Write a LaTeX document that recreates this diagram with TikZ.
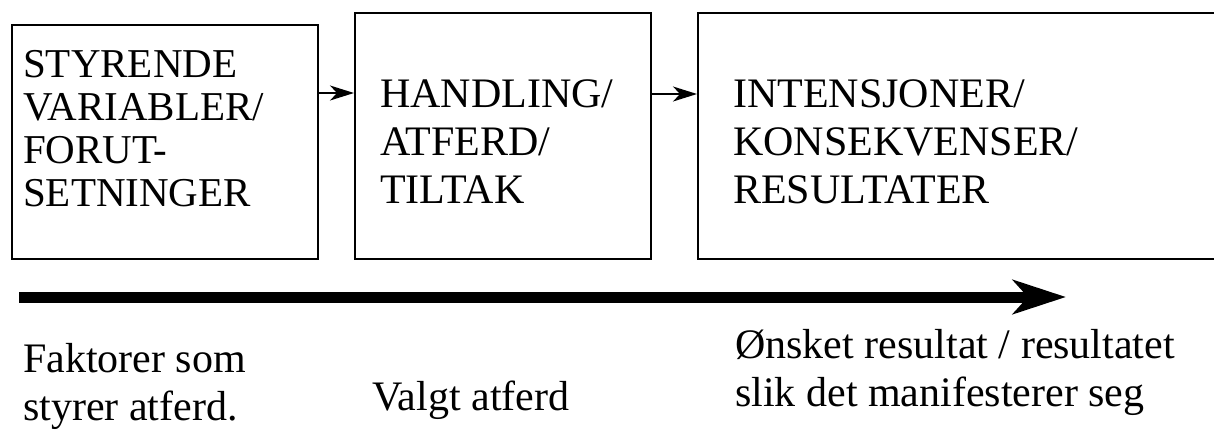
\documentclass[tikz,border=0pt]{standalone}
\usepackage{fontspec}
\setmainfont{Liberation Serif}
\usetikzlibrary{arrows.meta, positioning}
\tikzset{>=Stealth}

\begin{document}
\begin{tikzpicture}[x=1pt, y=-1pt,
        boks/.style={draw, line width=1.8pt, anchor=north west, inner sep=0pt},
        tekst/.style={anchor=base west, align=left, inner sep=0pt, font=\fontsize{42}{48}\selectfont},
        pil/.style={->, line width=1.5pt, >={Stealth[length=24pt, width=15pt, inset=7pt]}},
        tidspil/.style={->, line width=11pt, >={Stealth[length=53pt, width=34pt, inset=15pt]}}]
        \useasboundingbox (0,0) rectangle (1214,432);
        % boksene
        \node[boks, minimum width=306pt, minimum height=234pt] (styr) at (11,24) {};
        \node[boks, minimum width=296pt, minimum height=246pt] (hand) at (354,12) {};
        \node[boks, minimum width=530pt, minimum height=246pt] (res) at (697,12) {};
        % teksten (ankeret ligger paa siste linje)
        \node[tekst, font=\fontsize{41}{43}\selectfont] (styrtxt) at ([xshift=12pt, yshift=-182pt]styr.north west)
                {STYRENDE\\VARIABLER/\\FORUT-\\SETNINGER};
        \node[tekst] (handtxt) at ([xshift=26pt, yshift=-191pt]hand.north west)
                {HANDLING/\\ATFERD/\\TILTAK};
        \node[tekst] (restxt) at ([xshift=36pt, yshift=-191pt]res.north west)
                {INTENSJONER/\\KONSEKVENSER/\\RESULTATER};
        % piler mellom boksene
        \draw[pil] ([yshift=-69pt]styr.north east) coordinate (p1) -- (p1 -| hand.west);
        \draw[pil] ([yshift=-82pt]hand.north east) coordinate (p2) -- (p2 -| res.west);
        % tidsaksen
        \coordinate (start) at (19,297);
        \coordinate (slutt) at (1066,297);
        \draw[tidspil] (start) -- (slutt);
        \node[tekst] (faktor) at (23,420) {Faktorer som\\styrer atferd.};
        \node[tekst] (valgt) at (372,410) {Valgt atferd};
        \node[tekst] (onsket) at (735,406) {Ønsket resultat / resultatet\\slik det manifesterer seg};
\end{tikzpicture}
\end{document}
